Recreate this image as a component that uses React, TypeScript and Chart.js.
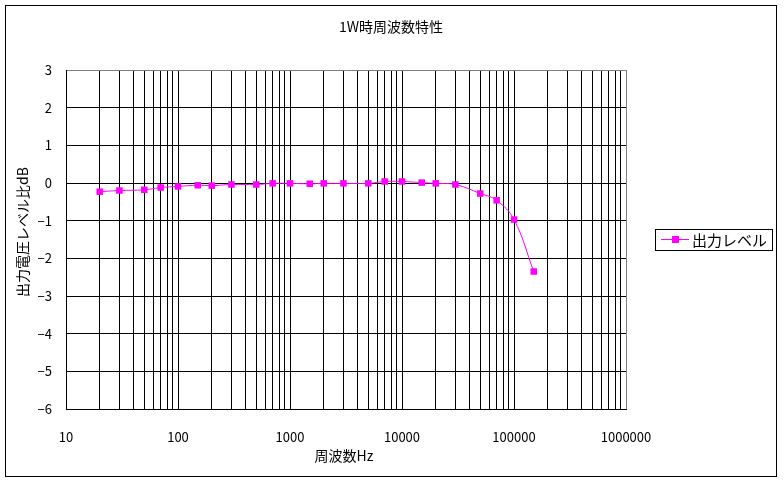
import React, { useEffect, useRef } from 'react';
import { Chart, registerables } from 'chart.js';

Chart.register(...registerables);

const chartTitle = '1W時周波数特性';
const xAxisTitle = '周波数Hz';
const yAxisTitle = '出力電圧レベル比dB';
const seriesName = '出力レベル';

const frequencies = [20, 30, 50, 70, 100, 150, 200, 300, 500, 700, 1000, 1500, 2000, 3000, 5000, 7000, 10000, 15000, 20000, 30000, 50000, 70000, 100000, 150000];
const levels = [-0.23, -0.2, -0.18, -0.12, -0.09, -0.06, -0.07, -0.04, -0.04, -0.01, -0.01, -0.02, -0.01, -0.01, -0.01, 0.04, 0.04, 0.01, -0.01, -0.04, -0.28, -0.46, -0.97, -2.35];

const xDecades = [10, 100, 1000, 10000, 100000, 1000000];
const xMinorSteps = [1, 2, 3, 4, 5, 6, 7, 8, 9];
const yMin = -6;
const yMax = 3;

const FONT = '"Noto Sans CJK JP", "Noto Sans", sans-serif';
const MAGENTA = '#FF00FF';

export default function App() {
  const ref = useRef<HTMLCanvasElement | null>(null);

  useEffect(() => {
    const canvas = ref.current;
    if (!canvas) return;

    const decorations = {
      id: 'decorations',
      afterDraw(chart: any) {
        const ctx = chart.ctx as CanvasRenderingContext2D;
        ctx.save();
        ctx.strokeStyle = '#000';
        ctx.lineWidth = 1;
        ctx.strokeRect(5.5, 5.5, 771, 471);
        ctx.fillStyle = '#000';
        ctx.font = `14px ${FONT}`;
        ctx.textAlign = 'center';
        ctx.textBaseline = 'middle';
        ctx.fillText(chartTitle, 391, 27);
        ctx.fillText(xAxisTitle, 344, 456);
        ctx.save();
        ctx.translate(23, 232);
        ctx.rotate(-Math.PI / 2);
        ctx.fillText(yAxisTitle, 0, 0);
        ctx.restore();
        ctx.strokeStyle = '#000';
        ctx.strokeRect(655.5, 229.5, 117, 21);
        ctx.strokeStyle = MAGENTA;
        ctx.beginPath();
        ctx.moveTo(661, 239.5);
        ctx.lineTo(689, 239.5);
        ctx.stroke();
        ctx.fillStyle = MAGENTA;
        ctx.fillRect(672, 236, 7, 7);
        ctx.fillStyle = '#000';
        ctx.font = `15px ${FONT}`;
        ctx.textAlign = 'left';
        ctx.fillText(seriesName, 692, 240);
        ctx.restore();
      },
    };

    const chart = new Chart(canvas, {
      type: 'line',
      data: {
        datasets: [
          {
            label: seriesName,
            data: frequencies.map((f, i) => ({ x: f, y: levels[i] })),
            borderColor: MAGENTA,
            backgroundColor: MAGENTA,
            borderWidth: 1,
            pointStyle: 'rect',
            pointRadius: 4.6,
            pointBorderWidth: 0,
            tension: 0.4,
          },
        ],
      },
      options: {
        responsive: false,
        animation: false,
        devicePixelRatio: 1,
        layout: { padding: { left: 0, top: 70, right: 158, bottom: 32 } },
        plugins: {
          legend: { display: false },
          title: { display: false },
          tooltip: { enabled: false },
        },
        scales: {
          x: {
            type: 'logarithmic',
            min: xDecades[0],
            max: xDecades[xDecades.length - 1],
            afterBuildTicks: (scale: any) => {
              const ticks: { value: number }[] = [];
              for (let d = 0; d < xDecades.length - 1; d++) {
                for (const m of xMinorSteps) ticks.push({ value: xDecades[d] * m });
              }
              ticks.push({ value: xDecades[xDecades.length - 1] });
              scale.ticks = ticks;
            },
            afterFit: (scale: any) => {
              scale.height = 40;
            },
            grid: {
              color: (c: any) => (c.tick && c.tick.value === xDecades[xDecades.length - 1] ? '#808080' : '#000'),
              lineWidth: 1,
              drawTicks: false,
            },
            border: { display: true, color: '#000', width: 1 },
            ticks: {
              autoSkip: false,
              maxRotation: 0,
              minRotation: 0,
              padding: 20,
              color: '#000',
              font: { family: FONT, size: 13 },
              callback: (v: any) => (xDecades.includes(Number(v)) ? String(v) : ''),
            },
          },
          y: {
            type: 'linear',
            min: yMin,
            max: yMax,
            afterFit: (scale: any) => {
              scale.width = 66;
            },
            grid: {
              color: (c: any) => (c.tick && c.tick.value === yMax ? '#808080' : '#000'),
              lineWidth: 1,
              drawTicks: false,
            },
            border: { display: true, color: '#000', width: 1 },
            ticks: {
              stepSize: 1,
              padding: 14,
              color: '#000',
              font: { family: FONT, size: 13 },
              callback: (v: any) => String(v).replace('-', '\u2212'),
            },
          },
        },
      },
      plugins: [decorations],
    });

    return () => chart.destroy();
  }, []);

  return (
    <div style={{ position: 'absolute', left: 0, top: 0, width: 784, height: 481, background: '#fff' }}>
      <canvas ref={ref} width={784} height={481} style={{ display: 'block', width: 784, height: 481 }} />
    </div>
  );
}
